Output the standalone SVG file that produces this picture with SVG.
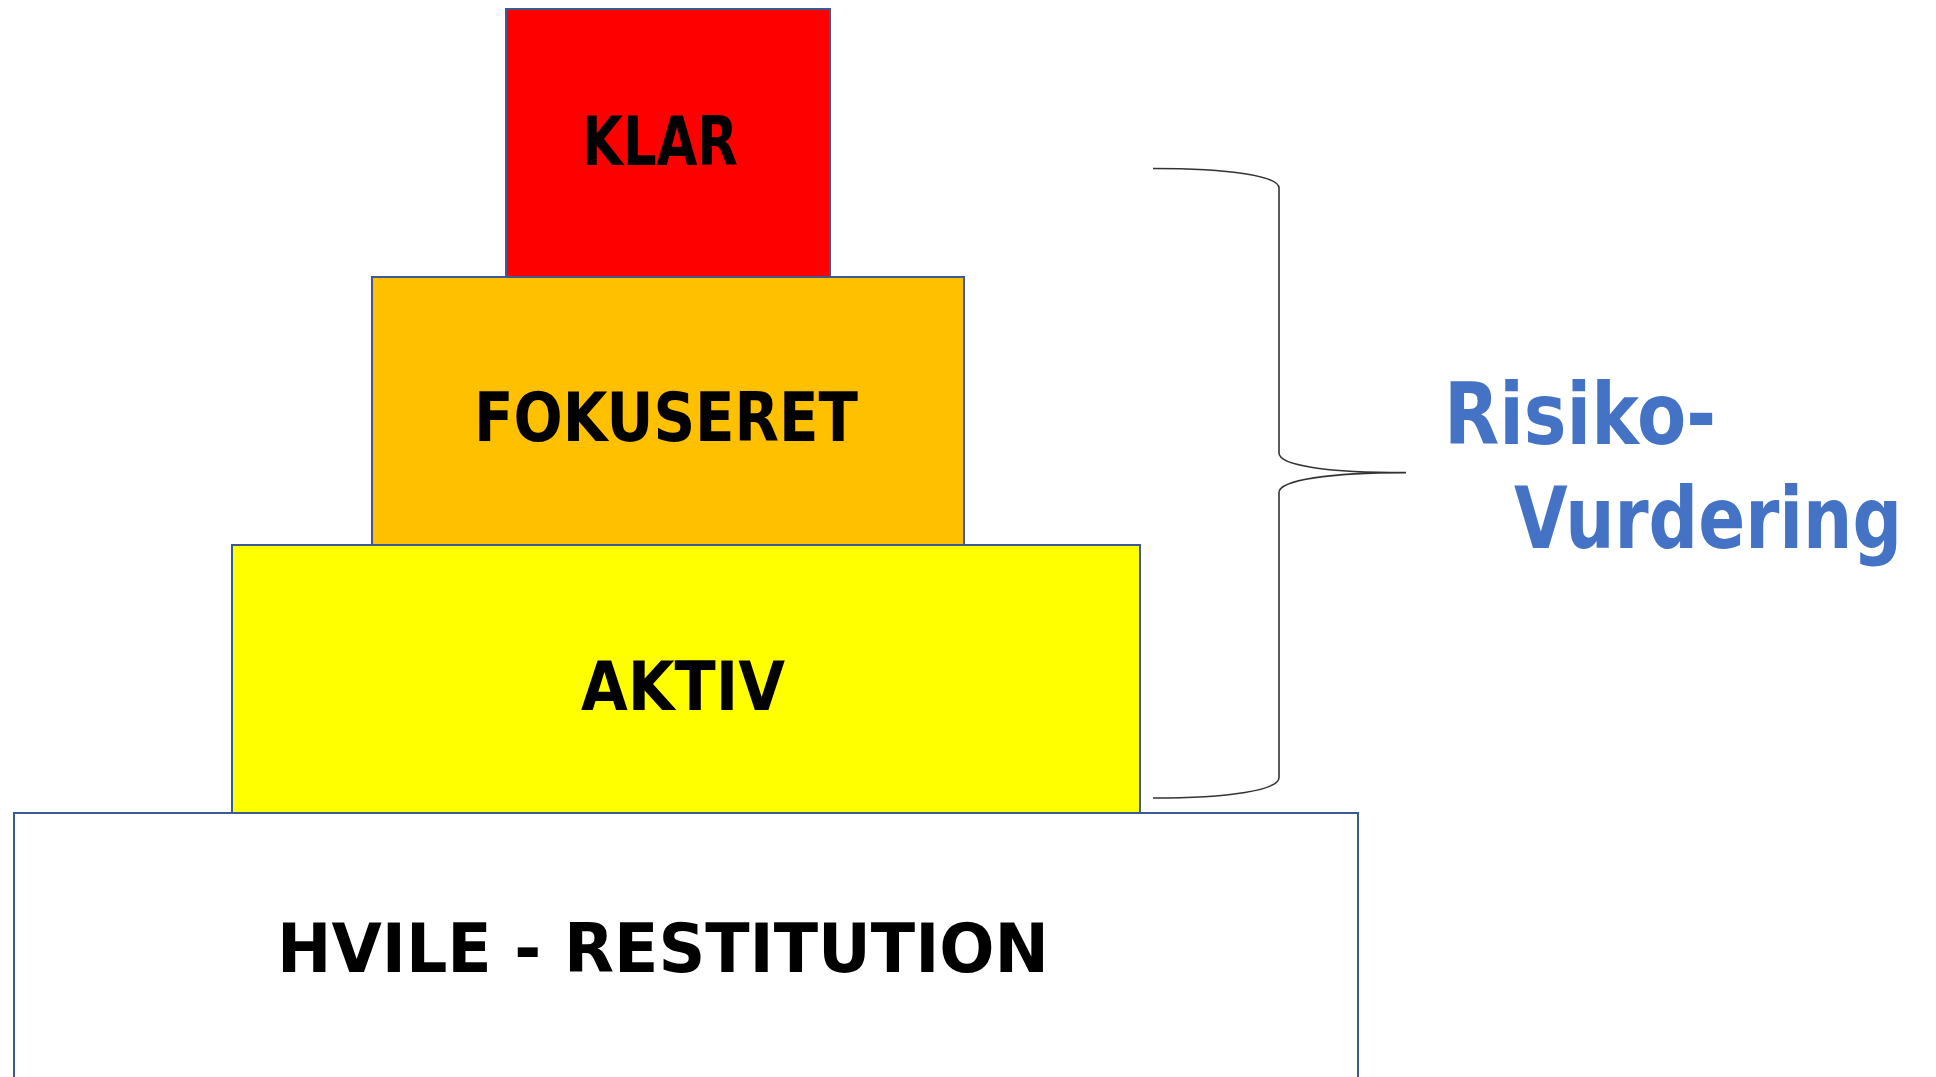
<svg xmlns="http://www.w3.org/2000/svg" width="1936" height="1077" viewBox="0 0 1936 1077">
  <style>
    .box { stroke: #3A5A96; stroke-width: 2; }
    .lbl { font-family: "DejaVu Sans", "Liberation Sans", sans-serif; font-weight: bold; font-size: 68px; fill: #000000; }
    .side { font-family: "DejaVu Sans", "Liberation Sans", sans-serif; font-weight: bold; font-size: 69px; fill: #4472C4; }
    .brace { fill: none; stroke: #333333; stroke-width: 1.6; }
  </style>
  <rect width="1936" height="1077" fill="#FFFFFF"/>
  <g id="node-hvile">
    <rect class="box" x="14" y="813" width="1344" height="280" fill="#FFFFFF"/>
    <text class="lbl" x="277" y="972" textLength="772" lengthAdjust="spacingAndGlyphs">HVILE - RESTITUTION</text>
  </g>
  <g id="node-aktiv">
    <rect class="box" x="232" y="545" width="908" height="268" fill="#FFFF00"/>
    <text class="lbl" x="581" y="710" textLength="204" lengthAdjust="spacingAndGlyphs">AKTIV</text>
  </g>
  <g id="node-fokuseret">
    <rect class="box" x="372" y="277" width="592" height="268" fill="#FFC000"/>
    <text class="lbl" x="474" y="441" textLength="384" lengthAdjust="spacingAndGlyphs">FOKUSERET</text>
  </g>
  <g id="node-klar">
    <rect class="box" x="506" y="9" width="324" height="268" fill="#FF0000"/>
    <text class="lbl" x="582" y="165" textLength="156" lengthAdjust="spacingAndGlyphs">KLAR</text>
  </g>
  <g id="connectors">
    <path class="brace" d="M1153,168.5 C1230,168.5 1279,176 1279,188 L1279,453 C1279,466 1330,472.6 1406,472.6 C1330,472.6 1279,480 1279,492.6 L1279,777.5 C1279,790 1230,798 1153,798"/>
  </g>
  <g id="node-risiko">
    <text class="side" transform="translate(1444,444) scale(1,1.25)" x="0" y="0" textLength="272" lengthAdjust="spacingAndGlyphs">Risiko-</text>
    <text class="side" transform="translate(1514,548) scale(1,1.25)" x="0" y="0" textLength="388" lengthAdjust="spacingAndGlyphs">Vurdering</text>
  </g>
</svg>
